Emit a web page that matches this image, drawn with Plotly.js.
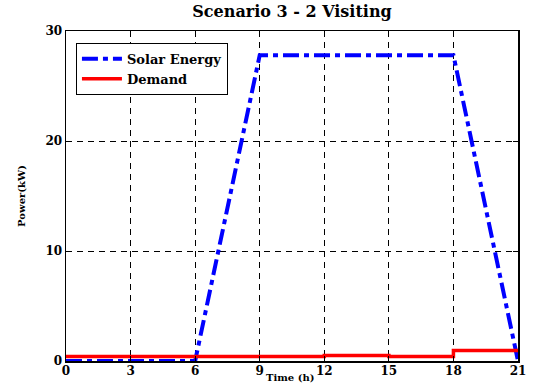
<!DOCTYPE html>
<html>
<head>
<meta charset="utf-8">
<script src="https://cdn.plot.ly/plotly-3.0.1.min.js"></script>
<style>html,body{margin:0;padding:0;background:#fff;}#chart{width:533px;height:385px;}</style>
</head>
<body>
<div id="chart"></div>
<script>
const solarHours = [0, 6, 9, 18, 21];
const solarPower = [0, 0, 27.8, 27.8, 0];
const demandHours = [0, 12, 15, 18, 21];
const demandPower = [0.4, 0.5, 0.4, 0.95, 0.95];
const xTicks = [0, 3, 6, 9, 12, 15, 18, 21];
const yTicks = [0, 10, 20, 30];

const FAM = '"DejaVu Serif", serif';

const traces = [
  {x: solarHours, y: solarPower, name: 'Solar Energy', mode: 'lines',
   line: {color: '#0000ff', width: 4, dash: '16px,5px,5px,5px'}},
  {x: demandHours, y: demandPower, name: 'Demand', mode: 'lines',
   line: {color: '#ff0000', width: 3.5, shape: 'hv'}}
];

const axisCommon = {
  showline: true, linecolor: '#000', linewidth: 1.5, mirror: 'ticks',
  ticks: 'inside', ticklen: 5, tickcolor: '#000',
  showgrid: true, gridcolor: '#000', griddash: '6px,5px', gridwidth: 1,
  zeroline: false,
  tickfont: {family: FAM, size: 12, color: '#000', weight: 'bold'}
};

const layout = {
  width: 533, height: 385,
  margin: {l: 66, r: 15, t: 31, b: 24},
  paper_bgcolor: '#fff', plot_bgcolor: '#fff',
  font: {family: FAM, color: '#000'},
  title: {text: '<b>Scenario 3 - 2 Visiting</b>', xref: 'paper', x: 0.5, xanchor: 'center', y: 0.985, yanchor: 'top',
          font: {family: FAM, size: 16, color: '#000'}},
  xaxis: Object.assign({}, axisCommon, {
    range: [0, 21], tickvals: xTicks, ticktext: xTicks.map(String), ticklabelstandoff: -2
  }),
  yaxis: Object.assign({}, axisCommon, {
    range: [0, 30], tickvals: yTicks, ticktext: yTicks.map(String),
    title: {text: '<b>Power(kW)</b>', standoff: 18, font: {family: FAM, size: 10, color: '#000'}}
  }),
  annotations: [{text: '<b>Time (h)</b>', xref: 'paper', yref: 'paper', x: 0.4956, y: -0.0727,
                 xanchor: 'center', yanchor: 'bottom', showarrow: false,
                 font: {family: FAM, size: 10, color: '#000'}}],
  showlegend: true,
  legend: {x: 0.022, y: 0.964, xanchor: 'left', yanchor: 'top',
           bgcolor: '#fff', bordercolor: '#000', borderwidth: 1,
           font: {family: FAM, size: 13, color: '#000', weight: 'bold'},
           tracegroupgap: 0, itemwidth: 40}
};

Plotly.newPlot('chart', traces, layout, {displayModeBar: false, staticPlot: true});
</script>
</body>
</html>
